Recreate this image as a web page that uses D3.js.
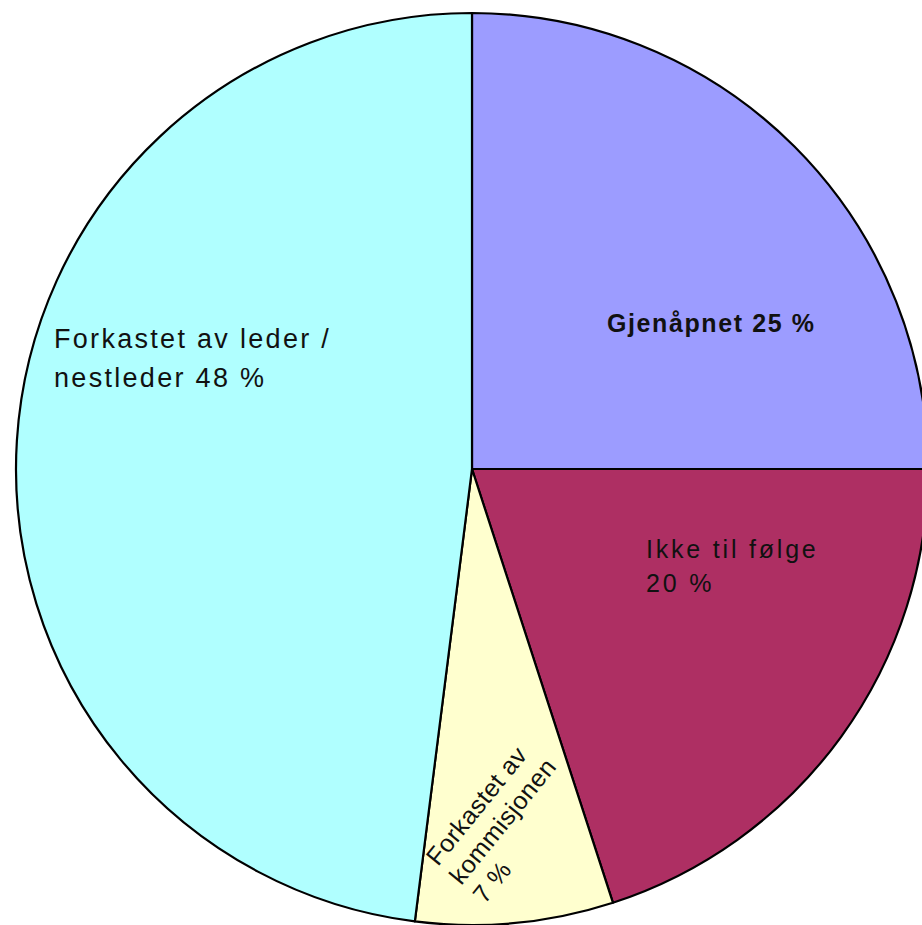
<!DOCTYPE html>
<html>
<head>
<meta charset="utf-8">
<script src="https://cdn.jsdelivr.net/npm/d3@7"></script>
<style>
  body { margin: 0; background: #fff; }
  text { font-family: "Liberation Sans", Arial, sans-serif; fill: #111; }
</style>
</head>
<body>
<div class="svgContainer"></div>
<script>
var w = 922;
var h = 925;

var categories = ["Gjenåpnet", "Ikke til følge", "Forkastet av kommisjonen", "Forkastet av leder / nestleder"];
var values = [25, 20, 7, 48];
var colors = ["#9c9cff", "#ae2f63", "#ffffcf", "#b0ffff"];

// label lines per slice
var labelLines = [
  ["Gjenåpnet 25 %"],
  ["Ikke til følge", "20 %"],
  ["Forkastet av", "kommisjonen", "7 %"],
  ["Forkastet av leder /", "nestleder 48 %"]
];

var cx = 472, cy = 469, r = 456;

var svg = d3.select(".svgContainer")
            .append("svg")
            .attr("width", w)
            .attr("height", h);

var pie = d3.pie().sort(null).value(function(d) { return d; });
var arc = d3.arc().innerRadius(0).outerRadius(r);
var arcs = pie(values);

var g = svg.append("g").attr("transform", "translate(" + cx + "," + cy + ")");

g.selectAll("path")
 .data(arcs)
 .enter()
 .append("path")
 .attr("d", arc)
 .attr("fill", function(d, i) { return colors[i]; })
 .attr("stroke", "#000")
 .attr("stroke-width", 2.2)
 .attr("stroke-linejoin", "round");

// label placement (relative to pie centre)
var labelPos = [
  {x: 135, y: -137, size: 25, weight: "bold", rot: 0, lh: 0, ls: 1.6},
  {x: 174, y: 89, size: 25, weight: "normal", rot: 0, lh: 34, ls: 2.8},
  {x: -34, y: 398, size: 25, weight: "normal", rot: -51, lh: 30, ls: 0.5},
  {x: -418, y: -121, size: 27, weight: "normal", rot: 0, lh: 39, ls: 2.3}
];

labelPos.forEach(function(p, i) {
  var t = g.append("text")
           .attr("transform", "translate(" + p.x + "," + p.y + ") rotate(" + p.rot + ")")
           .style("font-size", p.size + "px")
           .style("font-weight", p.weight)
           .style("letter-spacing", p.ls + "px");
  labelLines[i].forEach(function(line, j) {
    t.append("tspan").attr("x", 0).attr("y", j * p.lh).text(line);
  });
});
</script>
</body>
</html>
